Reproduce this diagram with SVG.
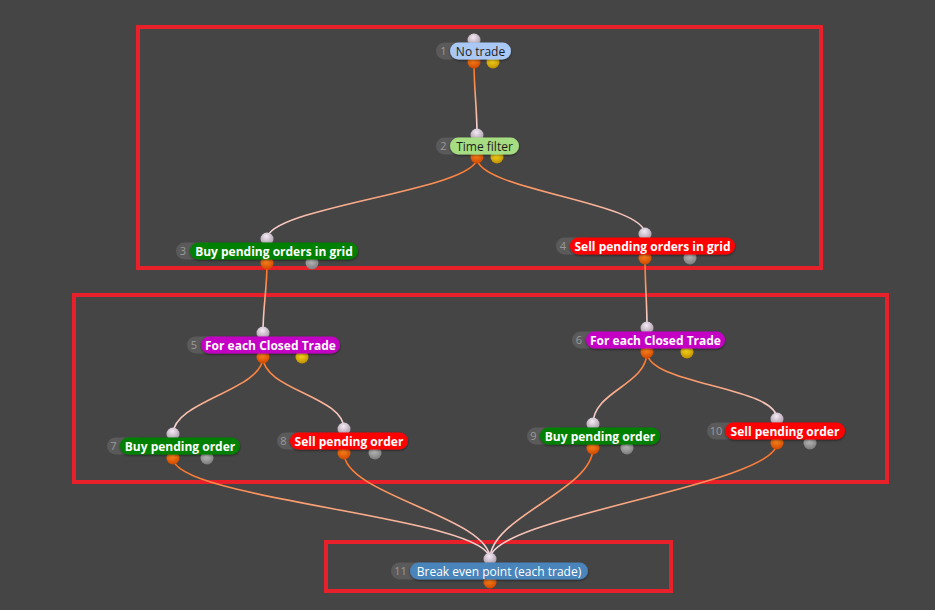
<svg xmlns="http://www.w3.org/2000/svg" width="935" height="610" viewBox="0 0 935 610">
<defs>
<linearGradient id="wire" x1="0" y1="0" x2="0" y2="1"><stop offset="0" stop-color="#ff6a12"/><stop offset="1" stop-color="#f6dfe9"/></linearGradient>
<radialGradient id="gIn" cx="0.45" cy="0.3" r="0.7"><stop offset="0" stop-color="#f4eaf4"/><stop offset="1" stop-color="#a898a8"/></radialGradient>
<radialGradient id="gOut" cx="0.45" cy="0.3" r="0.7"><stop offset="0" stop-color="#ff8a20"/><stop offset="1" stop-color="#d04800"/></radialGradient>
<radialGradient id="gYel" cx="0.45" cy="0.3" r="0.7"><stop offset="0" stop-color="#ffe020"/><stop offset="1" stop-color="#c09000"/></radialGradient>
<radialGradient id="gGry" cx="0.45" cy="0.3" r="0.7"><stop offset="0" stop-color="#c0c0c0"/><stop offset="1" stop-color="#7c7c7c"/></radialGradient>
<filter id="sh" x="-10%" y="-30%" width="120%" height="170%"><feDropShadow dx="0" dy="1" stdDeviation="1" flood-color="#000" flood-opacity="0.5"/></filter>
</defs>
<style>
.wire{fill:none;stroke:url(#wire);stroke-width:1.6}
.frame{fill:none;stroke:#e8202a;stroke-width:4}
.num{fill:#5a5a5a}
.numt{font-family:"Open Sans","Liberation Sans",sans-serif;font-size:11px;fill:#9a9a9a;text-anchor:middle}
.lbl{font-family:"Open Sans","Liberation Sans",sans-serif;font-size:12px;text-anchor:middle}
.b{font-weight:bold;fill:#ffffff}
.d{fill:#1c1c1c}
.w{fill:#ffffff}
.in{fill:url(#gIn)}
.out{fill:url(#gOut)}
.yel{fill:url(#gYel)}
.gry{fill:url(#gGry)}
</style>
<rect width="935" height="610" fill="#454545"/>
<rect class="frame" x="138" y="27" width="683" height="241"/>
<rect class="frame" x="74" y="295" width="813" height="187"/>
<rect class="frame" x="326" y="542" width="345" height="49"/>
<g id="connectors">
<path class="wire" d="M474,63 C474,90 477,107 477,134"/>
<path class="wire" d="M477,158 C477,190 267,207 267,239"/>
<path class="wire" d="M477,158 C477,190 645,202 645,234"/>
<path class="wire" d="M267,263 C267,290 263,306 263,333"/>
<path class="wire" d="M645,258 C645,285 647,301 647,328"/>
<path class="wire" d="M263,357 C263,390 173,401 173,434"/>
<path class="wire" d="M263,357 C263,390 344,396 344,429"/>
<path class="wire" d="M647,352 C647,385 593,391 593,424"/>
<path class="wire" d="M647,352 C647,385 777,386 777,419"/>
<path class="wire" d="M173,458 C173,500 490,517 490,559"/>
<path class="wire" d="M344,453 C344,495 490,517 490,559"/>
<path class="wire" d="M593,448 C593,490 490,517 490,559"/>
<path class="wire" d="M777,443 C777,485 490,517 490,559"/>
</g>
<g id="node1">
<circle class="in" cx="474" cy="40" r="6.5"/><circle class="out" cx="474" cy="62" r="6.5"/><circle class="yel" cx="493" cy="62" r="6.5"/>
<rect class="num" x="436" y="42.5" width="40" height="17" rx="8.5"/>
<rect x="450" y="42.5" width="61" height="17" rx="8.5" fill="#aac8f6" filter="url(#sh)"/>
<text class="numt" x="443.5" y="55">1</text>
<text class="lbl d" x="480.5" y="55.5">No trade</text>
</g>
<g id="node2">
<circle class="in" cx="477" cy="135" r="6.5"/><circle class="out" cx="477" cy="157" r="6.5"/><circle class="yel" cx="497" cy="157" r="6.5"/>
<rect class="num" x="436" y="137.5" width="40" height="17" rx="8.5"/>
<rect x="450" y="137.5" width="69" height="17" rx="8.5" fill="#a6dd82" filter="url(#sh)"/>
<text class="numt" x="443.5" y="150">2</text>
<text class="lbl d" x="484.5" y="150.5">Time filter</text>
</g>
<g id="node3">
<circle class="in" cx="267" cy="239" r="6.5"/><circle class="out" cx="267" cy="263" r="6.5"/><circle class="gry" cx="312" cy="263" r="6.5"/>
<rect class="num" x="176" y="242.5" width="40" height="17" rx="8.5"/>
<rect x="190" y="242.5" width="168" height="17" rx="8.5" fill="#008000" filter="url(#sh)"/>
<text class="numt" x="183" y="255">3</text>
<text class="lbl b" x="274" y="255.5">Buy pending orders in grid</text>
</g>
<g id="node4">
<circle class="in" cx="645" cy="234" r="6.5"/><circle class="out" cx="645" cy="258" r="6.5"/><circle class="gry" cx="690" cy="258" r="6.5"/>
<rect class="num" x="556" y="237.5" width="40" height="17" rx="8.5"/>
<rect x="570" y="237.5" width="165" height="17" rx="8.5" fill="#ff0000" filter="url(#sh)"/>
<text class="numt" x="563" y="250">4</text>
<text class="lbl b" x="652.5" y="250.5">Sell pending orders in grid</text>
</g>
<g id="node5">
<circle class="in" cx="263" cy="333" r="6.5"/><circle class="out" cx="263" cy="357" r="6.5"/><circle class="yel" cx="302" cy="357" r="6.5"/>
<rect class="num" x="187" y="336.5" width="40" height="17" rx="8.5"/>
<rect x="201" y="336.5" width="139" height="17" rx="8.5" fill="#c400c4" filter="url(#sh)"/>
<text class="numt" x="194" y="349">5</text>
<text class="lbl b" x="270.5" y="349.5">For each Closed Trade</text>
</g>
<g id="node6">
<circle class="in" cx="647" cy="328" r="6.5"/><circle class="out" cx="647" cy="352" r="6.5"/><circle class="yel" cx="687" cy="352" r="6.5"/>
<rect class="num" x="572" y="331.5" width="40" height="17" rx="8.5"/>
<rect x="586" y="331.5" width="139" height="17" rx="8.5" fill="#c400c4" filter="url(#sh)"/>
<text class="numt" x="579" y="344">6</text>
<text class="lbl b" x="655.5" y="344.5">For each Closed Trade</text>
</g>
<g id="node7">
<circle class="in" cx="173" cy="434" r="6.5"/><circle class="out" cx="173" cy="458" r="6.5"/><circle class="gry" cx="207" cy="458" r="6.5"/>
<rect class="num" x="107" y="437.5" width="40" height="17" rx="8.5"/>
<rect x="120" y="437.5" width="120" height="17" rx="8.5" fill="#008000" filter="url(#sh)"/>
<text class="numt" x="113.5" y="450">7</text>
<text class="lbl b" x="180" y="450.5">Buy pending order</text>
</g>
<g id="node8">
<circle class="in" cx="344" cy="429" r="6.5"/><circle class="out" cx="344" cy="453" r="6.5"/><circle class="gry" cx="375" cy="453" r="6.5"/>
<rect class="num" x="277" y="432.5" width="40" height="17" rx="8.5"/>
<rect x="290" y="432.5" width="118" height="17" rx="8.5" fill="#ff0000" filter="url(#sh)"/>
<text class="numt" x="283.5" y="445">8</text>
<text class="lbl b" x="349" y="445.5">Sell pending order</text>
</g>
<g id="node9">
<circle class="in" cx="593" cy="424" r="6.5"/><circle class="out" cx="593" cy="448" r="6.5"/><circle class="gry" cx="627" cy="448" r="6.5"/>
<rect class="num" x="527" y="427.5" width="40" height="17" rx="8.5"/>
<rect x="540" y="427.5" width="120" height="17" rx="8.5" fill="#008000" filter="url(#sh)"/>
<text class="numt" x="533.5" y="440">9</text>
<text class="lbl b" x="600" y="440.5">Buy pending order</text>
</g>
<g id="node10">
<circle class="in" cx="777" cy="419" r="6.5"/><circle class="out" cx="777" cy="443" r="6.5"/><circle class="gry" cx="810" cy="443" r="6.5"/>
<rect class="num" x="707" y="422.5" width="40" height="17" rx="8.5"/>
<rect x="725" y="422.5" width="120" height="17" rx="8.5" fill="#ff0000" filter="url(#sh)"/>
<text class="numt" x="716" y="435">10</text>
<text class="lbl b" x="785" y="435.5">Sell pending order</text>
</g>
<g id="node11">
<circle class="in" cx="490" cy="559" r="6.5"/><circle class="out" cx="490" cy="582" r="6.5"/>
<rect class="num" x="391" y="562.5" width="40" height="17" rx="8.5"/>
<rect x="410" y="562.5" width="178" height="17" rx="8.5" fill="#4a84ba" filter="url(#sh)"/>
<text class="numt" x="400.5" y="575">11</text>
<text class="lbl w" x="499" y="575.5">Break even point (each trade)</text>
</g>
</svg>
